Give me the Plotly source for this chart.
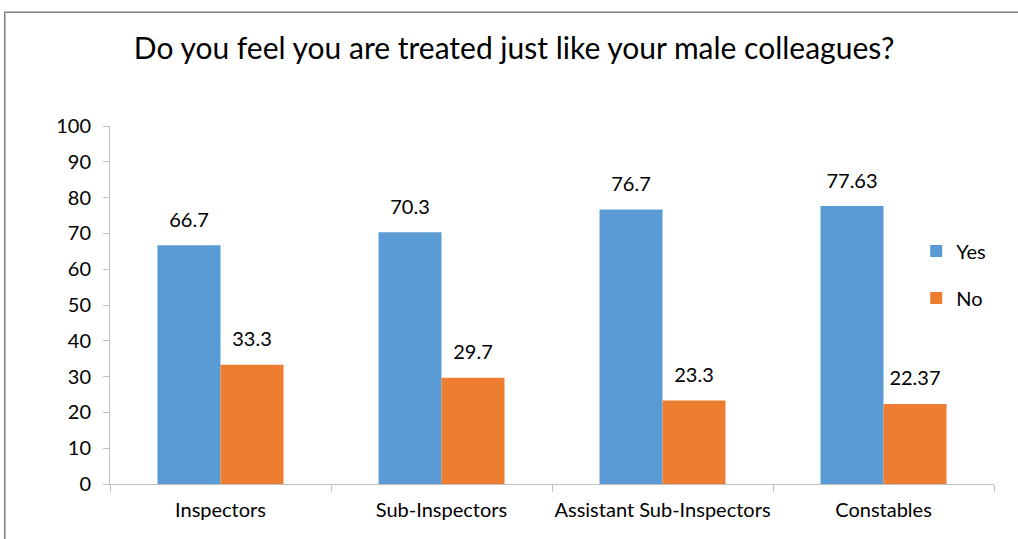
import plotly.graph_objects as go

categories = ["Inspectors", "Sub-Inspectors", "Assistant Sub-Inspectors", "Constables"]
yes_values = [66.7, 70.3, 76.7, 77.63]
no_values = [33.3, 29.7, 23.3, 22.37]
yes_labels = ["66.7", "70.3", "76.7", "77.63"]
no_labels = ["33.3", "29.7", "23.3", "22.37"]
y_ticks = list(range(0, 101, 10))

FONT = "Lato"
BLUE = "#5B9BD5"
ORANGE = "#ED7D31"

fig = go.Figure()
fig.add_trace(go.Bar(
    name="Yes", x=categories, y=yes_values, offsetgroup="yes",
    marker=dict(color=BLUE, line=dict(width=0)), legendgroup="a",
))
fig.add_trace(go.Bar(
    name="No", x=categories, y=no_values, offsetgroup="no",
    marker=dict(color=ORANGE, line=dict(width=0)), legendgroup="b",
))
# value labels placed above the bars (grouped like the bars)
for vals, labs, grp in [(yes_values, yes_labels, "yes"), (no_values, no_labels, "no")]:
    fig.add_trace(go.Scatter(
        x=categories, y=vals, text=labs, offsetgroup=grp,
        mode="markers+text", textposition="top center",
        marker=dict(size=20, opacity=0),
        textfont=dict(size=20, color="#000000", family=FONT),
        showlegend=False, hoverinfo="skip", cliponaxis=False,
    ))

fig.update_layout(
    width=1018, height=539,
    margin=dict(l=110, r=24, t=126, b=55, pad=0),
    paper_bgcolor="white", plot_bgcolor="white",
    font=dict(family=FONT, size=20, color="#000000"),
    title=dict(text="Do you feel you are treated just like your male colleagues?",
               x=0.505, xanchor="center", y=0.91, yanchor="middle",
               font=dict(size=30, family=FONT, color="#000000")),
    barmode="group", bargap=0.43, bargroupgap=0,
    scattermode="group", scattergap=0.43,
    showlegend=True,
    legend=dict(x=0.912, y=0.705, xanchor="left", yanchor="top",
                font=dict(size=20, family=FONT), tracegroupgap=18,
                bgcolor="rgba(0,0,0,0)", itemwidth=30),
    xaxis=dict(showgrid=False, showline=True, linecolor="#BFBFBF", linewidth=1,
               ticks="outside", tickson="boundaries", ticklen=7, tickcolor="#BFBFBF",
               tickfont=dict(size=20, family=FONT), ticklabelstandoff=8,
               tickangle=0, automargin=False),
    yaxis=dict(range=[0, 100], tickvals=y_ticks, showgrid=False, showline=True,
               linecolor="#BFBFBF", linewidth=1, ticks="outside", ticklen=6,
               tickcolor="#BFBFBF", tickfont=dict(size=20, family=FONT),
               zeroline=False, ticklabelstandoff=8, automargin=False),
    shapes=[dict(type="rect", xref="paper", yref="paper",
                 x0=-0.119, x1=1.2, y0=-0.4, y1=1.318,
                 line=dict(color="#7F7F7F", width=1.5), fillcolor="rgba(0,0,0,0)")],
)

fig.write_html("out.html", config={"displayModeBar": False},
               post_script="document.body.style.margin='0px';")
